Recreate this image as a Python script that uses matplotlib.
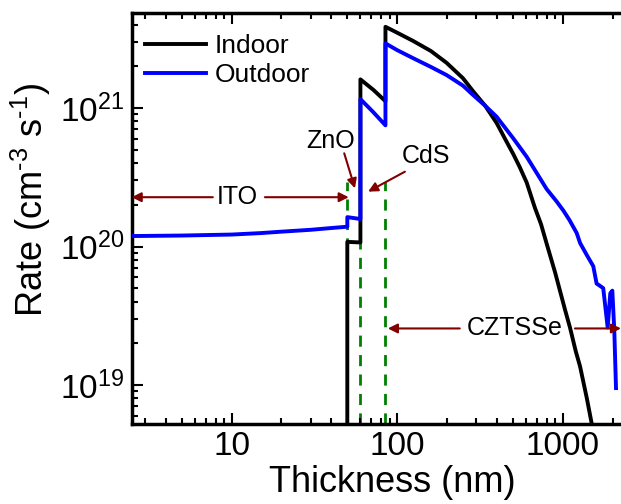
import matplotlib
matplotlib.use('Agg')
import matplotlib.pyplot as plt
from matplotlib.ticker import FixedLocator, LogLocator, NullFormatter, FuncFormatter

plt.rcParams['font.family'] = ['Liberation Sans', 'DejaVu Sans']
plt.rcParams['mathtext.fontset'] = 'custom'
plt.rcParams['mathtext.rm'] = 'Liberation Sans'
plt.rcParams['mathtext.it'] = 'Liberation Sans:italic'

# generation rate (nm, cm^-3 s^-1)
indoor_x = [50, 50, 60, 60, 72, 85, 85, 100, 125, 160, 199, 250, 288, 340, 399,
            450, 503, 550, 606, 680, 740, 800, 900, 1033, 1107, 1200, 1274, 1400,
            1496, 1550]
indoor_y = [1e18, 1.08e20, 1.07e20, 1.61e21, 1.35e21, 1.12e21, 3.86e21, 3.5e21,
            3.05e21, 2.58e21, 2.12e21, 1.64e21, 1.32e21, 1.04e21, 7.8e20, 5.95e20,
            4.65e20, 3.75e20, 2.9e20, 1.9e20, 1.45e20, 1.05e20, 6.5e19, 3.5e19,
            2.6e19, 1.75e19, 1.36e19, 8.0e18, 5.3e18, 4.2e18]

outdoor_x = [2.5, 5, 10, 15, 20, 30, 40, 50, 50, 60, 60, 72, 85, 85, 100, 125, 160,
             199, 250, 288, 340, 399, 503, 606, 800, 918, 1009, 1100, 1216, 1274,
             1397, 1531, 1603, 1680, 1758, 1870, 1940, 1995, 2050, 2100]
outdoor_y = [1.19e20, 1.2e20, 1.22e20, 1.25e20, 1.28e20, 1.32e20, 1.36e20, 1.39e20,
             1.63e20, 1.58e20, 1.16e21, 9.3e20, 7.5e20, 2.93e21, 2.62e21, 2.29e21,
             1.98e21, 1.73e21, 1.45e21, 1.24e21, 1.04e21, 8.65e20, 6.04e20, 4.45e20,
             2.6e20, 2.12e20, 1.82e20, 1.55e20, 1.25e20, 1.06e20, 8.7e19, 7.2e19,
             5.4e19, 5.2e19, 5.0e19, 2.6e19, 4.6e19, 4.8e19, 2.5e19, 9.5e18]

interfaces = [50, 60, 85]   # ITO/ZnO, ZnO/CdS, CdS/CZTSSe
dash_top = 2.94e20
xmin, xmax = 2.49, 2251
ymin, ymax = 5.2e18, 4.88e21

arrow_col = '#800000'

fig = plt.figure(figsize=(6.21, 5.04), dpi=100)
ax = fig.add_axes([0.212, 0.1581, 0.788, 0.8167])

for xi in interfaces:
    ax.plot([xi, xi], [ymin, dash_top], color='#008000', lw=2, ls=(0, (4, 3)), zorder=1)

ax.plot(indoor_x, indoor_y, color='black', lw=2.8, label='Indoor', zorder=3)
ax.plot(outdoor_x, outdoor_y, color='#0000ff', lw=2.8, label='Outdoor', zorder=3)

ax.set_xscale('log')
ax.set_yscale('log')
ax.set_xlim(xmin, xmax)
ax.set_ylim(ymin, ymax)

ax.xaxis.set_major_locator(FixedLocator([10, 100, 1000]))
ax.xaxis.set_major_formatter(FuncFormatter(lambda v, p: '%d' % v))
ax.xaxis.set_minor_locator(LogLocator(base=10, subs=range(2, 10), numticks=20))
ax.xaxis.set_minor_formatter(NullFormatter())
ax.yaxis.set_minor_locator(LogLocator(base=10, subs=range(2, 10), numticks=20))
ax.yaxis.set_minor_formatter(NullFormatter())

ax.tick_params(which='both', direction='in', top=True, right=False, width=1.5)
ax.tick_params(which='major', length=8, labelsize=24, pad=5)
ax.tick_params(which='minor', length=4)
for s in ax.spines.values():
    s.set_linewidth(2.5)
ax.spines['right'].set_visible(False)

ax.set_xlabel('Thickness (nm)', fontsize=26)
ax.set_ylabel('Rate (cm$^{\u20103}$ s$^{\u20101}$)', fontsize=26)
ax.xaxis.set_label_coords(0.533, -0.10)
ax.yaxis.set_label_coords(-0.16, 0.545)

leg = ax.legend(loc='upper left', frameon=False, fontsize=19, handlelength=2.3,
                handletextpad=0.35, labelspacing=0.2, borderaxespad=0.1,
                bbox_to_anchor=(0.0, 0.98))

arr = dict(arrowstyle='-|>', color=arrow_col, lw=1.5, mutation_scale=14,
           shrinkA=0, shrinkB=0)
y_ito = 2.27e20
ax.text(10.9, y_ito, 'ITO', fontsize=18, ha='center', va='center')
ax.annotate('', xy=(xmin, y_ito), xytext=(7.7, y_ito), arrowprops=arr)
ax.annotate('', xy=(51, y_ito), xytext=(15.9, y_ito), arrowprops=arr)

ax.text(39.8, 5.82e20, 'ZnO', fontsize=18, ha='center', va='center')
ax.annotate('', xy=(55.6, 2.63e20), xytext=(47.9, 4.71e20), arrowprops=arr)

ax.text(149, 4.5e20, 'CdS', fontsize=18, ha='center', va='center')
ax.annotate('', xy=(66.8, 2.49e20), xytext=(111.4, 3.47e20), arrowprops=arr)

y_cz = 2.56e19
ax.text(515, y_cz, 'CZTSSe', fontsize=18, ha='center', va='center')
ax.annotate('', xy=(87.9, y_cz), xytext=(239, y_cz), arrowprops=arr)
ax.annotate('', xy=(xmax, y_cz), xytext=(1186, y_cz), arrowprops=arr,
            annotation_clip=False)

plt.savefig('out.png', dpi=100)
